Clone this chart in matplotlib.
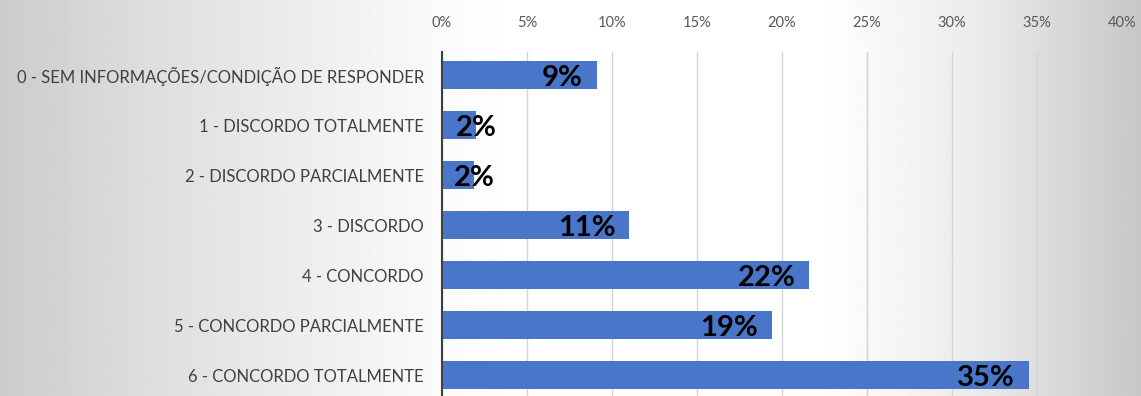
import matplotlib
matplotlib.use('Agg')
import matplotlib.pyplot as plt
import numpy as np

categories = [
    "0 - SEM INFORMAÇÕES/CONDIÇÃO DE RESPONDER",
    "1 - DISCORDO TOTALMENTE",
    "2 - DISCORDO PARCIALMENTE",
    "3 - DISCORDO",
    "4 - CONCORDO",
    "5 - CONCORDO PARCIALMENTE",
    "6 - CONCORDO TOTALMENTE",
]
values = [9.1, 2.0, 1.9, 11.0, 21.6, 19.4, 34.5]
value_labels = ["9%", "2%", "2%", "11%", "22%", "19%", "35%"]
xticks = [0, 5, 10, 15, 20, 25, 30, 35, 40]

FONT = ["Lato", "DejaVu Sans"]

fig = plt.figure(figsize=(11.41, 3.96), dpi=100)

# fond en degrade (bords gris, milieu blanc)
bg = fig.add_axes([0, 0, 1, 1], zorder=-10)
xs = np.linspace(0, 1, 600)
shade = np.interp(xs, [0, 0.15, 0.38, 0.45, 0.72, 0.86, 1.0],
                  [0.80, 0.88, 0.98, 1.0, 1.0, 0.92, 0.78])
grad = np.tile(shade, (10, 1))
bg.imshow(grad, cmap="gray", vmin=0, vmax=1, aspect="auto",
          extent=[0, 1, 0, 1])
bg.axis("off")

ax = fig.add_axes([442 / 1141, 0, (1122 - 442) / 1141, 1 - 52 / 396])
ax.patch.set_alpha(0)

y = np.arange(len(categories))
ax.barh(y, values, height=0.56, color="#4a76c9", zorder=3)

for yi, v, lab in zip(y, values, value_labels):
    if v < 4:
        # barre trop courte : etiquette centree sur le bout de la barre
        ax.text(v, yi + 0.05, lab, ha="center", va="center", fontsize=21,
                fontweight="bold", color="black", family=FONT, zorder=4)
    else:
        ax.text(v - 0.8, yi + 0.05, lab, ha="right", va="center", fontsize=21,
                fontweight="bold", color="black", family=FONT, zorder=4)

ax.set_xlim(0, 40)
ax.set_ylim(6.42, -0.46)
ax.set_xticks(xticks)
ax.set_xticklabels([f"{t}%" for t in xticks], family=FONT, fontsize=10.5,
                   color="#595959")
ax.xaxis.tick_top()
ax.tick_params(axis="x", length=0, pad=16)
ax.set_yticks(y)
ax.set_yticklabels(categories, family=FONT, fontsize=12.0, color="#404040")
ax.tick_params(axis="y", length=0, pad=13)

ax.grid(axis="x", color="#d4d4d4", linewidth=1, zorder=0)
for s in ["top", "right", "bottom"]:
    ax.spines[s].set_visible(False)
ax.spines["left"].set_color("#404040")
ax.spines["left"].set_linewidth(1.5)
ax.spines["left"].set_zorder(5)

plt.savefig("out.png", dpi=100)
